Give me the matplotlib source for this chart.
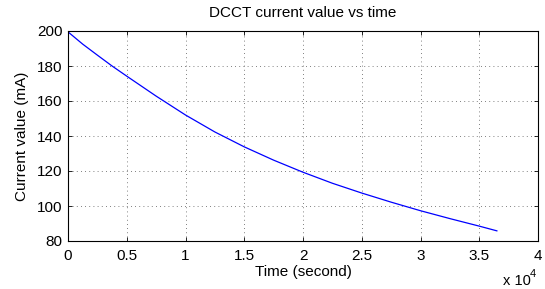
import matplotlib
matplotlib.use('Agg')
import matplotlib.pyplot as plt

# time (x 10^4 s) and DCCT current (mA)
time_e4 = [0, 0.125, 0.25, 0.375, 0.5, 0.75, 1.0, 1.25, 1.5, 1.75, 2.0, 2.25, 2.5, 2.75, 3.0, 3.25, 3.5, 3.65]
current = [199.5, 192.5, 186.2, 180, 174.2, 162.8, 152, 142.3, 133.8, 126.2, 119.3, 113, 107.4, 102.2, 97.3, 92.8, 88.5, 85.8]
xticks = [0, 0.5, 1, 1.5, 2, 2.5, 3, 3.5, 4]
yticks = [80, 100, 120, 140, 160, 180, 200]

plt.rcParams['font.family'] = ['Liberation Sans', 'DejaVu Sans']
plt.rcParams['font.size'] = 11

fig = plt.figure(figsize=(5.45, 2.89), dpi=100)
ax = fig.add_axes([68 / 545, 1 - 241 / 289, 470 / 545, 210 / 289])

ax.plot([t * 1e4 for t in time_e4], current, color='#0000ff', lw=0.9)

ax.set_xlim(0, 40000)
ax.set_ylim(80, 200)
ax.set_xticks([x * 1e4 for x in xticks])
ax.set_xticklabels([f'{x:g}' for x in xticks])
ax.set_yticks(yticks)
ax.tick_params(direction='in', length=3, width=0.6, labelsize=11)
ax.tick_params(axis='x', top=True, pad=6)
ax.tick_params(axis='y', right=True, pad=4)
ax.grid(True, linestyle=(0, (1, 4)), color='#555555', lw=0.6)
for s in ax.spines.values():
    s.set_linewidth(0.8)

ax.set_title('DCCT current value vs time', fontsize=11, pad=10)
ax.set_xlabel('Time (second)', labelpad=1)
ax.set_ylabel('Current value (mA)', labelpad=6)
# axis multiplier, drawn as MATLAB does below the right end of the x axis
fig.text(503 / 545, 1 - 285 / 289, 'x 10', fontsize=10.5, va='baseline')
fig.text(530 / 545, 1 - 277 / 289, '4', fontsize=8, va='baseline')

fig.savefig('out.png', dpi=100)
